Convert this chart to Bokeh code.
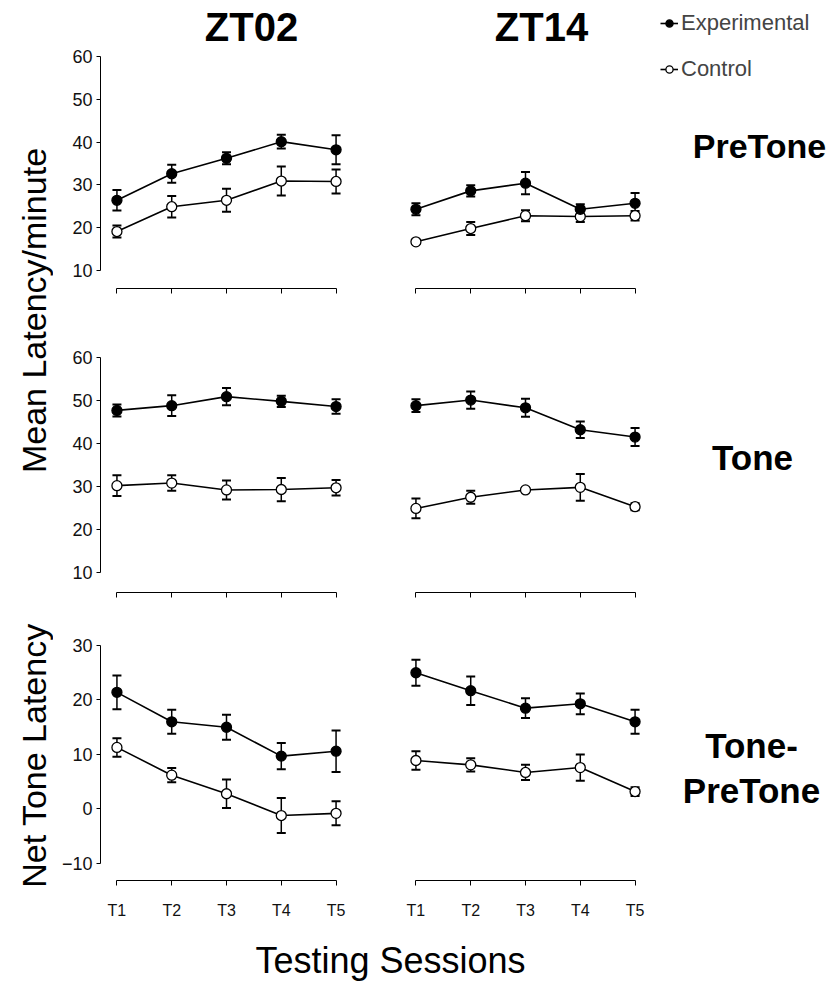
import math
from bokeh.plotting import figure
from bokeh.layouts import row, column
from bokeh.models import (ColumnDataSource, Range1d, FixedTicker, Whisker, TeeHead,
                          Label, Legend, LegendItem)
from bokeh.embed import file_html
from bokeh.resources import INLINE

# ---------------- data ----------------
sessions = ["T1", "T2", "T3", "T4", "T5"]
session_x = [1, 2, 3, 4, 5]

pretone_zt02_exp = [26.4, 32.6, 36.2, 40.1, 38.2]
pretone_zt02_exp_err = [2.4, 2.1, 1.4, 1.6, 3.4]
pretone_zt02_ctl = [19.1, 24.9, 26.4, 30.9, 30.8]
pretone_zt02_ctl_err = [1.4, 2.5, 2.7, 3.4, 2.8]

pretone_zt14_exp = [24.3, 28.6, 30.4, 24.3, 25.7]
pretone_zt14_exp_err = [1.4, 1.3, 2.6, 1.2, 2.4]
pretone_zt14_ctl = [16.7, 19.8, 22.8, 22.6, 22.8]
pretone_zt14_ctl_err = [0.5, 1.5, 1.3, 1.3, 1.1]

tone_zt02_exp = [47.7, 48.8, 50.9, 49.8, 48.6]
tone_zt02_exp_err = [1.4, 2.4, 2.0, 1.3, 1.7]
tone_zt02_ctl = [30.2, 30.8, 29.2, 29.3, 29.7]
tone_zt02_ctl_err = [2.4, 1.8, 2.2, 2.7, 1.8]

tone_zt14_exp = [48.8, 50.1, 48.3, 43.2, 41.5]
tone_zt14_exp_err = [1.5, 2.0, 2.1, 1.9, 2.1]
tone_zt14_ctl = [24.9, 27.5, 29.2, 29.8, 25.3]
tone_zt14_ctl_err = [2.3, 1.5, 0.4, 3.1, 0.8]

net_zt02_exp = [21.4, 16.0, 15.0, 9.7, 10.6]
net_zt02_exp_err = [3.1, 2.2, 2.3, 2.4, 3.8]
net_zt02_ctl = [11.3, 6.2, 2.8, -1.2, -0.8]
net_zt02_ctl_err = [1.7, 1.3, 2.6, 3.2, 2.2]

net_zt14_exp = [25.0, 21.7, 18.5, 19.3, 16.0]
net_zt14_exp_err = [2.4, 2.6, 1.8, 1.9, 2.2]
net_zt14_ctl = [8.9, 8.1, 6.7, 7.6, 3.2]
net_zt14_ctl_err = [1.7, 1.2, 1.4, 2.4, 0.8]

latency_ticks = [10, 20, 30, 40, 50, 60]
net_ticks = [-10, 0, 10, 20, 30]

FONT = "Liberation Sans"


def src(vals, errs):
    return ColumnDataSource(dict(
        x=session_x, y=vals,
        upper=[v + e for v, e in zip(vals, errs)],
        lower=[v - e for v, e in zip(vals, errs)],
    ))


def add_series(p, vals, errs, filled):
    s = src(vals, errs)
    w = Whisker(source=s, base="x", upper="upper", lower="lower",
                line_color="black", line_width=1.5,
                upper_head=TeeHead(size=9, line_color="black", line_width=2),
                lower_head=TeeHead(size=9, line_color="black", line_width=2))
    p.add_layout(w)
    ln = p.line("x", "y", source=s, line_color="black", line_width=1.6)
    sc = p.scatter("x", "y", source=s, size=10, marker="circle",
                   fill_color="black" if filled else "white",
                   line_color="black", line_width=1.3)
    return ln, sc


def panel(width, height, mbl, mbr, mbt, mbb, xr, yr, show_y, yticks, ybounds,
          xlabels):
    p = figure(width=width, height=height, x_range=Range1d(*xr),
               y_range=Range1d(*yr), output_backend="svg",
               toolbar_location=None, min_border_left=mbl,
               min_border_right=mbr, min_border_top=mbt,
               min_border_bottom=mbb,
               y_axis_location="left" if show_y else None)
    p.outline_line_color = None
    p.xgrid.visible = False
    p.ygrid.visible = False
    p.background_fill_color = "white"
    p.border_fill_color = "white"
    xa = p.xaxis[0]
    xa.ticker = FixedTicker(ticks=session_x)
    xa.bounds = (1, 5)
    xa.minor_tick_line_color = None
    xa.major_tick_in = 0
    xa.major_tick_out = 5
    xa.axis_line_color = "black"
    xa.major_tick_line_color = "black"
    if xlabels:
        xa.major_label_overrides = {x: s for x, s in zip(session_x, sessions)}
        xa.major_label_text_font = FONT
        xa.major_label_text_font_size = "16px"
        xa.major_label_text_color = "#111111"
        xa.major_label_standoff = 16
    else:
        xa.major_label_text_font_size = "1px"
        xa.major_label_text_color = None
        xa.major_label_standoff = 0
    if show_y:
        ya = p.yaxis[0]
        ya.ticker = FixedTicker(ticks=yticks)
        ya.bounds = ybounds
        ya.minor_tick_line_color = None
        ya.major_tick_in = 0
        ya.major_tick_out = 4
        ya.major_label_standoff = 4
        ya.major_label_text_font = FONT
        ya.major_label_text_font_size = "18px"
        ya.major_label_text_color = "#111111"
        ya.axis_line_color = "black"
    return p


def txt(p, x, y, text, size, bold=True, align="center", angle=0.0):
    p.add_layout(Label(x=x, y=y, x_units="screen", y_units="screen",
                       text=text, text_font=FONT, text_font_size=size,
                       text_font_style="bold" if bold else "normal",
                       text_align=align, text_baseline="middle",
                       text_color="black", angle=angle))


# layout (canvas pixels): left strip 0-53, left panels 53-383, right 383-836
LW, RW = 330, 453
XL = (0.7, 5.3)            # left panel frame: 252 px wide
XR = (0.7, 8.677)          # right panel frame extends to the right edge (437 px)

# row 1 (PreTone): frame from the top edge (room for titles) down to y=288
r1 = (5.79, 73.08)
tl = panel(LW, 320, 47, 31, 0, 32, XL, r1, True, latency_ticks, (10, 60), False)
tr = panel(RW, 320, 16, 0, 0, 32, XR, r1, False, None, None, False)
add_series(tl, pretone_zt02_ctl, pretone_zt02_ctl_err, False)
add_series(tl, pretone_zt02_exp, pretone_zt02_exp_err, True)
lc, sc_c = add_series(tr, pretone_zt14_ctl, pretone_zt14_ctl_err, False)
le, sc_e = add_series(tr, pretone_zt14_exp, pretone_zt14_exp_err, True)

# legend location = bottom-left corner, in px from the frame's bottom-left
legend = Legend(items=[LegendItem(label="Experimental", renderers=[le, sc_e]),
                       LegendItem(label="Control", renderers=[lc, sc_c])],
                location=(261, 206), orientation="vertical",
                label_text_font=FONT, label_text_font_size="22px",
                glyph_width=18, glyph_height=22, label_height=22,
                label_standoff=3, spacing=20, padding=0, margin=0,
                border_line_color=None, background_fill_alpha=0)
tr.add_layout(legend, "center")

txt(tl, 151, 262, "ZT02", "40px")
txt(tr, 142, 262, "ZT14", "40px")
txt(tr, 360, 143, "PreTone", "34px")

# row 2 (Tone)
r2 = (5.35, 61.63)
ml = panel(LW, 290, 47, 31, 30, 18, XL, r2, True, latency_ticks, (10, 60), False)
mr = panel(RW, 290, 16, 0, 30, 18, XR, r2, False, None, None, False)
add_series(ml, tone_zt02_ctl, tone_zt02_ctl_err, False)
add_series(ml, tone_zt02_exp, tone_zt02_exp_err, True)
add_series(mr, tone_zt14_ctl, tone_zt14_ctl_err, False)
add_series(mr, tone_zt14_exp, tone_zt14_exp_err, True)
txt(mr, 353, 135, "Tone", "35px")

# row 3 (Tone - PreTone)
r3 = (-13.12, 31.28)
bl = panel(LW, 315, 47, 31, 28, 45, XL, r3, True, net_ticks, (-10, 30), True)
br = panel(RW, 315, 16, 0, 28, 45, XR, r3, False, None, None, True)
add_series(bl, net_zt02_ctl, net_zt02_ctl_err, False)
add_series(bl, net_zt02_exp, net_zt02_exp_err, True)
add_series(br, net_zt14_ctl, net_zt14_ctl_err, False)
add_series(br, net_zt14_exp, net_zt14_exp_err, True)
txt(br, 352, 135, "Tone-", "35px")
txt(br, 352, 90, "PreTone", "35px")


def blank(width, height):
    p = figure(width=width, height=height, x_range=Range1d(0, 1),
               y_range=Range1d(0, 1), output_backend="svg",
               toolbar_location=None, min_border=0,
               x_axis_location=None, y_axis_location=None)
    p.outline_line_color = None
    p.xgrid.visible = False
    p.ygrid.visible = False
    return p


strip = blank(53, 925)
txt(strip, 33, 925 - 310, "Mean Latency/minute", "34px", bold=False,
    angle=math.pi / 2)
txt(strip, 33, 925 - 755, "Net Tone Latency", "34px", bold=False,
    angle=math.pi / 2)

bottom = blank(836, 65)
txt(bottom, 390, 30, "Testing Sessions", "36px", bold=False)

grid = column(row(tl, tr), row(ml, mr), row(bl, br))
page = column(row(strip, grid), bottom)

open("out.html", "w").write(file_html(page, INLINE))
